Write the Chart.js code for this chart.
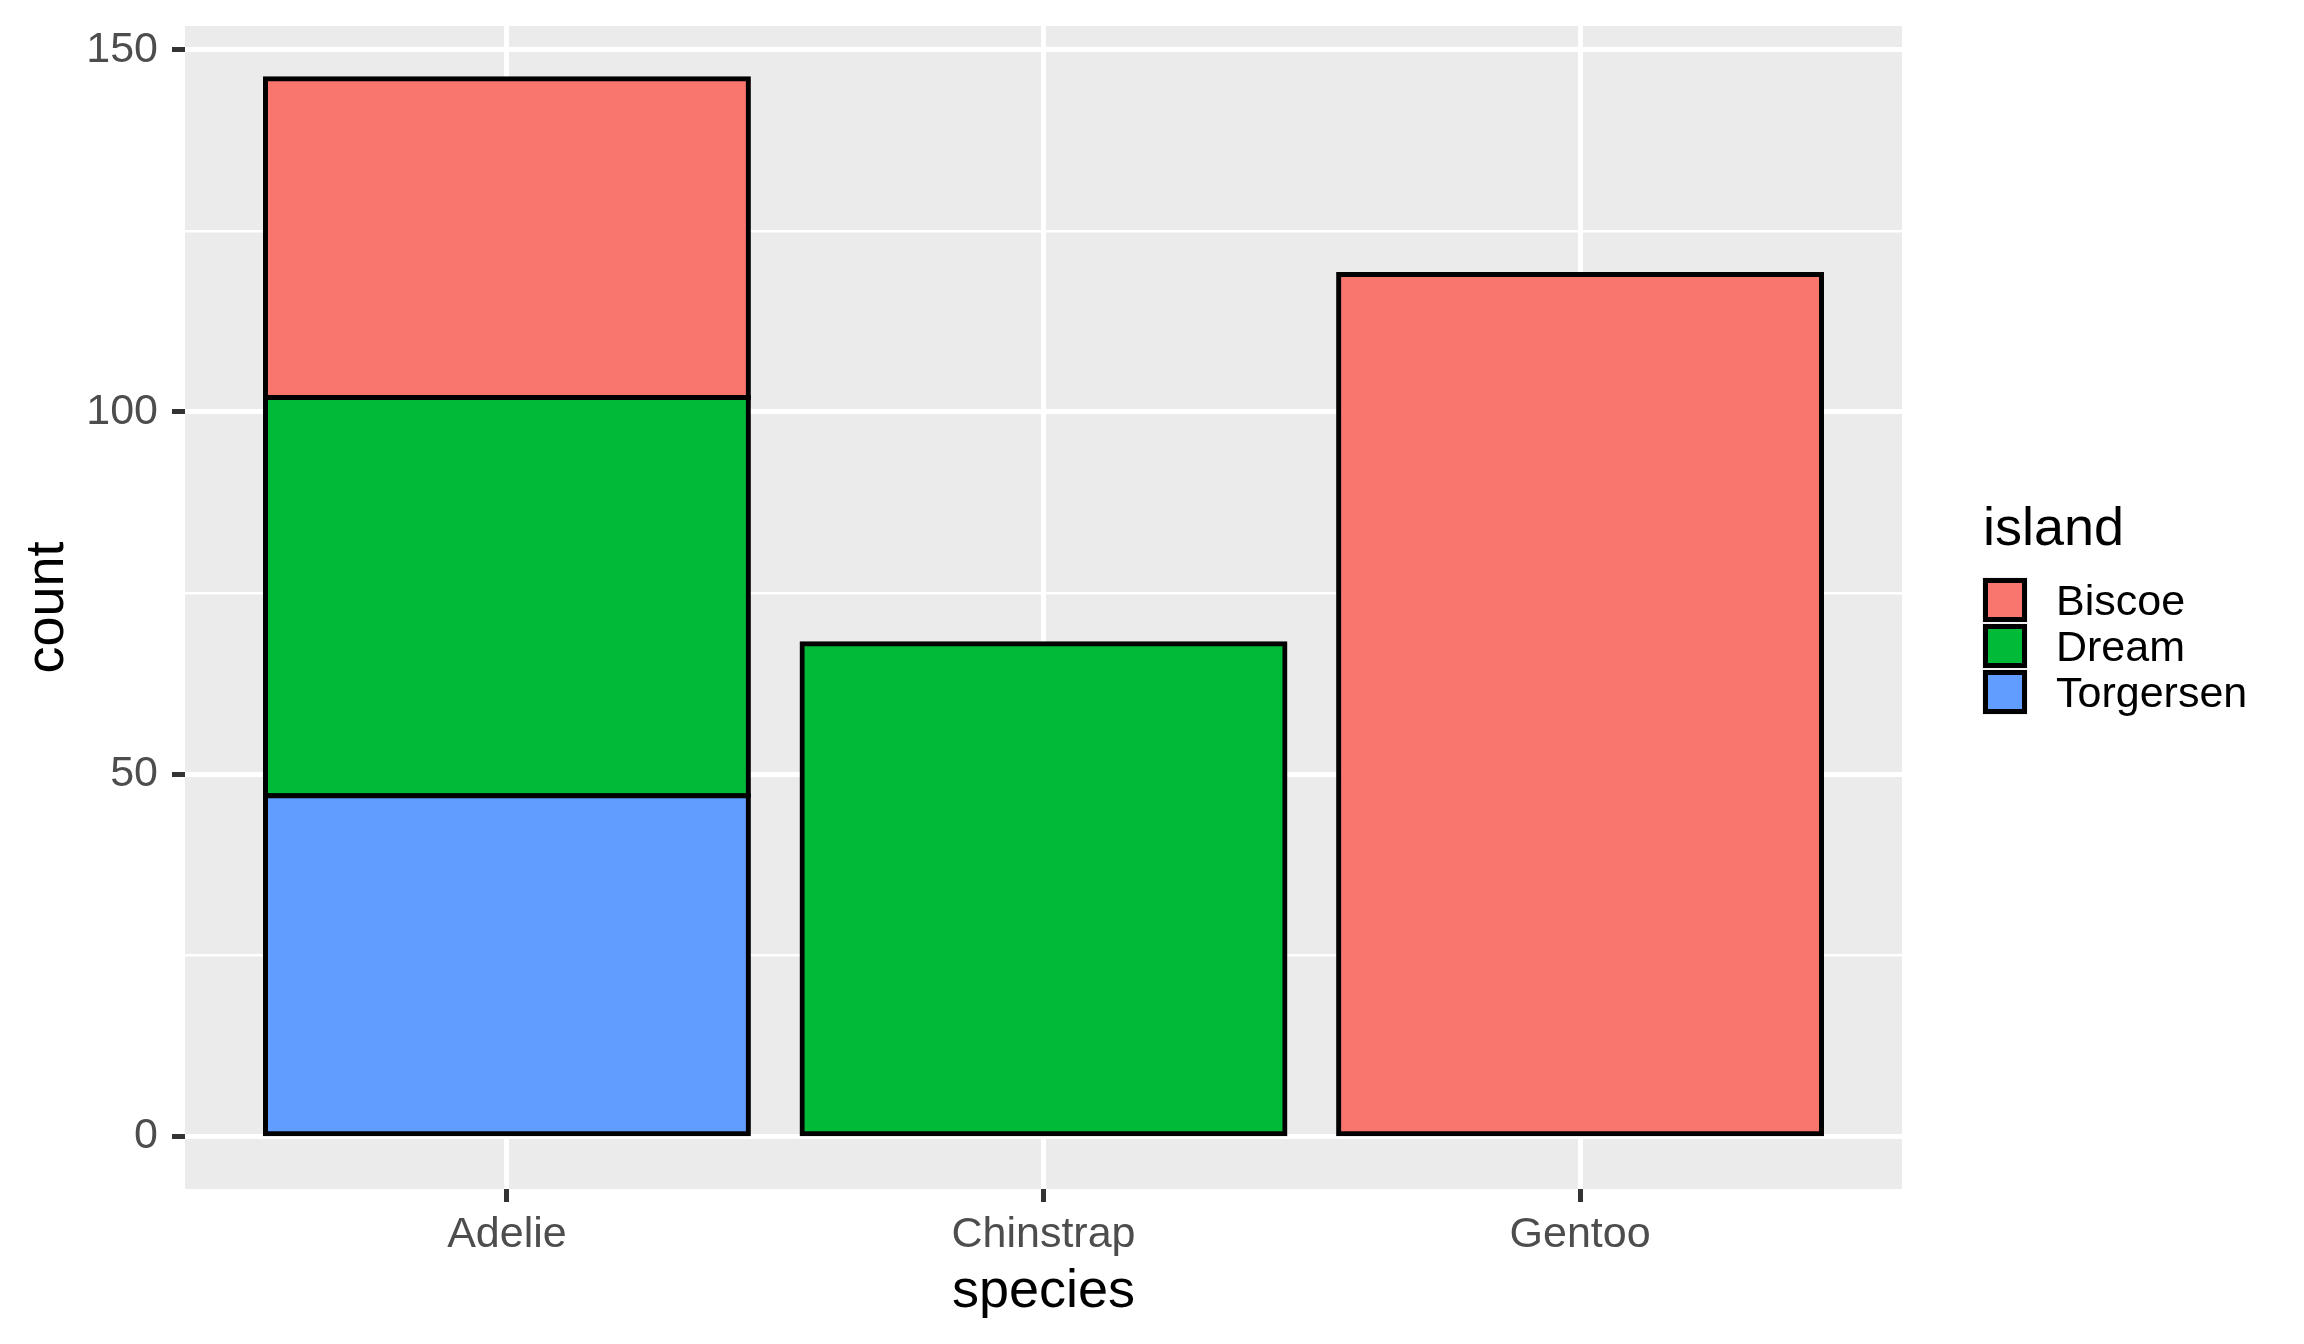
<!DOCTYPE html>
<html>
<head>
<meta charset="utf-8">
<script src="https://cdn.jsdelivr.net/npm/chart.js@4.4.1/dist/chart.umd.min.js"></script>
<style>
  body { margin: 0; background: #ffffff; }
  #wrap { position: relative; width: 2304px; height: 1344px; }
  #legend { position: absolute; left: 1982px; top: 499px; font-family: 'Liberation Sans', Arial, sans-serif; color: #000; }
  #legend .title { font-size: 54px; line-height: 54px; margin-left: 1px; margin-bottom: 24px; }
  #legend .row { display: flex; align-items: center; height: 46px; }
  #legend .key { width: 46px; height: 46px; background: #F2F2F2; display: flex; align-items: center; justify-content: center; }
  #legend .swatch { width: 44px; height: 44px; box-sizing: border-box; border: 5px solid #000; }
  #legend .label { font-size: 43px; line-height: 46px; margin-left: 28px; }
</style>
</head>
<body>
<div id="wrap">
  <canvas id="chart" width="2304" height="1344"></canvas>
  <div id="legend"></div>
</div>
<script>
// species on the x axis
const species = ['Adelie', 'Chinstrap', 'Gentoo'];

// counts per island (null = no penguins of that species on the island)
const islands = ['Biscoe', 'Dream', 'Torgersen'];
const biscoe = [44, null, 119];
const dream = [55, 68, null];
const torgersen = [47, null, null];

const islandColors = ['#F8766D', '#00BA38', '#619CFF'];

// y axis ticks
const countTicks = [0, 50, 100, 150];
const countMinor = [25, 75, 125];

const seriesByIsland = [biscoe, dream, torgersen];

// ggplot style expansion of the axes
const totals = species.map((s, i) => seriesByIsland.reduce((acc, arr) => acc + (arr[i] || 0), 0));
const yPad = Math.max(...totals) * 0.05;

function toPoints(values) {
    return values
        .map((v, i) => ({ x: i + 1, y: v }))
        .filter(p => p.y !== null);
}

// stack order: Torgersen at the bottom, Biscoe on top
const datasets = [2, 1, 0].map(k => ({
    label: islands[k],
    data: toPoints(seriesByIsland[k]),
    backgroundColor: islandColors[k],
    borderColor: '#000000',
    borderWidth: 5,
    borderSkipped: false,
    inflateAmount: 2.5,
    categoryPercentage: 1,
    barPercentage: 0.9
}));

const isMajor = v => countTicks.includes(v);

// grey panel behind the grid
const panelBackground = {
    id: 'panelBackground',
    beforeDraw(chart) {
        const { ctx, chartArea: a } = chart;
        ctx.save();
        ctx.fillStyle = '#EBEBEB';
        ctx.fillRect(a.left, a.top, a.right - a.left, a.bottom - a.top);
        ctx.restore();
    }
};

Chart.defaults.font.family = "'Liberation Sans', Arial, sans-serif";

new Chart(document.getElementById('chart'), {
    type: 'bar',
    data: { datasets: datasets },
    plugins: [panelBackground],
    options: {
        responsive: false,
        animation: false,
        events: [],
        layout: { padding: { top: 26, right: 402, left: 0, bottom: 0 } },
        plugins: {
            legend: { display: false },
            tooltip: { enabled: false }
        },
        scales: {
            x: {
                type: 'linear',
                stacked: true,
                offset: false,
                min: 0.4,
                max: species.length + 0.6,
                afterBuildTicks: scale => {
                    scale.ticks = species.map((s, i) => ({ value: i + 1 }));
                },
                afterFit: scale => {
                    scale.height = 155;
                    scale.paddingLeft = 0;
                    scale.paddingRight = 0;
                },
                ticks: {
                    autoSkip: false,
                    maxRotation: 0,
                    padding: 7,
                    color: '#4D4D4D',
                    font: { size: 43 },
                    callback: (value, index) => species[index]
                },
                grid: {
                    offset: false,
                    color: '#FFFFFF',
                    lineWidth: 5,
                    tickColor: '#333333',
                    tickWidth: 5,
                    tickLength: 13
                },
                border: { display: false },
                title: {
                    display: true,
                    text: 'species',
                    color: '#000000',
                    font: { size: 54 },
                    padding: { top: 0, bottom: 19 }
                }
            },
            y: {
                stacked: true,
                min: -yPad,
                max: Math.max(...totals) + yPad,
                afterBuildTicks: scale => {
                    scale.ticks = countTicks.concat(countMinor)
                        .sort((a, b) => a - b)
                        .map(v => ({ value: v }));
                },
                afterFit: scale => {
                    scale.width = 185;
                    scale.paddingTop = 0;
                    scale.paddingBottom = 0;
                },
                ticks: {
                    autoSkip: false,
                    padding: 14,
                    color: '#4D4D4D',
                    font: { size: 43 },
                    callback: value => isMajor(value) ? String(value) : ''
                },
                grid: {
                    color: '#FFFFFF',
                    lineWidth: ctx => (ctx.tick && isMajor(ctx.tick.value)) ? 5 : 2.5,
                    tickColor: ctx => (ctx.tick && isMajor(ctx.tick.value)) ? '#333333' : 'rgba(0,0,0,0)',
                    tickWidth: 5,
                    tickLength: 13
                },
                border: { display: false },
                title: {
                    display: true,
                    text: 'count',
                    color: '#000000',
                    font: { size: 54 },
                    padding: { top: 16, bottom: 0 }
                }
            }
        }
    }
});

// legend in ggplot order
const legend = document.getElementById('legend');
legend.innerHTML = '<div class="title">island</div>' + islands.map((name, k) => `
    <div class="row">
        <div class="key"><div class="swatch" style="background:${islandColors[k]}"></div></div>
        <div class="label">${name}</div>
    </div>`).join('');
</script>
</body>
</html>
